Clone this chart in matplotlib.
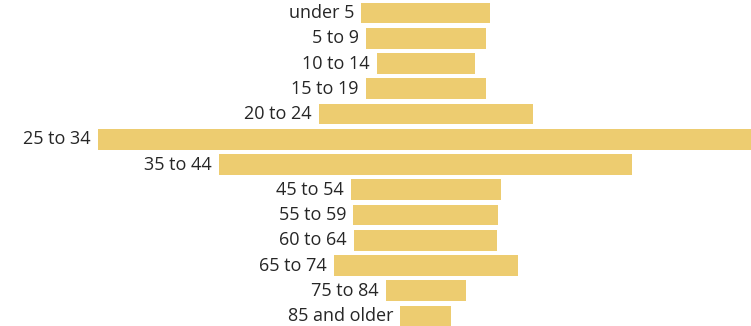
import matplotlib.pyplot as plt

# Age groups, top to bottom, and their sizes (thousands)
age_groups = ['under 5', '5 to 9', '10 to 14', '15 to 19', '20 to 24',
              '25 to 34', '35 to 44', '45 to 54', '55 to 59', '60 to 64',
              '65 to 74', '75 to 84', '85 and older']
counts = [129, 120, 98, 120, 214, 656, 413, 150, 145, 143, 184, 80, 51]

plt.rcParams['font.family'] = ['Open Sans', 'DejaVu Sans']

fig = plt.figure(figsize=(7.51, 3.26), dpi=100)
ax = fig.add_axes([0, 0, 1, 1])

# centred bars, each one spread evenly either side of zero
for i, (label, v) in enumerate(zip(age_groups, counts)):
    ax.barh(i, v, left=-v / 2, height=0.83, color='#EDCC70')
    ax.text(-v / 2 - 7, i, label, ha='right', va='center',
            fontsize=13, color='#262626')

ax.set_xlim(-425.5, 325.5)
ax.set_ylim(12.396, -0.515)
ax.axis('off')

fig.savefig('out.png', dpi=100)
